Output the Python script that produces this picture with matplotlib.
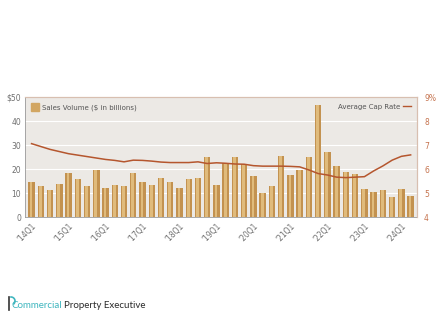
import numpy as np
import matplotlib
matplotlib.use('Agg')
import matplotlib.pyplot as plt
from matplotlib.lines import Line2D

# 資料
quarters = [f"'{y}Q{q}" for y in range(14, 25) for q in range(1, 5)][:42]
sales_volume = [14.5, 13, 11.5, 14, 18.5, 16, 13, 19.5,
                12, 13.5, 13, 18.5, 14.5, 13.5, 16.5, 14.5,
                12, 16, 16.5, 25, 13.5, 22.5, 25.3, 22.2,
                17.2, 10, 13, 25.5, 17.6, 19.7, 25.3, 47,
                27.4, 21.4, 18.8, 17.9, 11.8, 10.7, 11.3, 8.6,
                11.9, 8.9]
cap_rate = [7.07, 6.95, 6.83, 6.74, 6.65, 6.59, 6.53, 6.47,
            6.41, 6.37, 6.31, 6.38, 6.37, 6.34, 6.30, 6.28,
            6.28, 6.28, 6.31, 6.24, 6.27, 6.25, 6.22, 6.21,
            6.15, 6.13, 6.13, 6.13, 6.12, 6.10, 5.97, 5.82,
            5.76, 5.67, 5.65, 5.67, 5.69, 5.93, 6.14, 6.38,
            6.54, 6.60]
tick_labels = [q for q in quarters if q.endswith('Q1')]

gray = '#6f6f6f'
rust = '#B5562E'
frame = '#D8BFB0'

fig = plt.figure(figsize=(4.4, 3.27), dpi=100)
ax = fig.add_axes([0.057, 0.336, 0.891, 0.366])
ax.set_facecolor('#ECE9E5')

x = np.arange(len(sales_volume))
ax.bar(x, sales_volume, width=0.7, color='#C39250', zorder=2)
ax.bar(x - 0.06, sales_volume, width=0.3, color='#E0BB7C', zorder=3)

ax.set_xlim(-0.7, len(x) - 0.3)
ax.set_ylim(0, 50)
ax.set_yticks([0, 10, 20, 30, 40, 50])
ax.set_yticklabels(['0', '10', '20', '30', '40', '$50'])
ax.set_xticks([i for i, q in enumerate(quarters) if q.endswith('Q1')])
ax.set_xticklabels(tick_labels, rotation=45, ha='right', rotation_mode='anchor')
ax.tick_params(axis='both', length=0, labelsize=5.5, colors=gray, pad=3)
ax.grid(axis='y', color='white', linewidth=0.8, zorder=1)
ax.set_axisbelow(True)
for side in ['left', 'bottom']:
    ax.spines[side].set_color('#9a9a9a')
    ax.spines[side].set_linewidth(0.6)
for side in ['top', 'right']:
    ax.spines[side].set_color(frame)
    ax.spines[side].set_linewidth(0.8)

ax2 = ax.twinx()
ax2.plot(x, cap_rate, color=rust, linewidth=1.1, zorder=5)
ax2.set_ylim(4, 9)
ax2.set_yticks([4, 5, 6, 7, 8, 9])
ax2.set_yticklabels(['4', '5', '6', '7', '8', '9%'])
ax2.tick_params(axis='y', length=0, labelsize=5.5, colors='#C5734E', pad=5)
for side in ['left', 'bottom']:
    ax2.spines[side].set_visible(False)
for side in ['top', 'right']:
    ax2.spines[side].set_color(frame)
    ax2.spines[side].set_linewidth(0.8)

# 圖例
h1 = Line2D([], [], marker='s', linestyle='none', markersize=5.5,
            markerfacecolor='#D2A662', markeredgecolor='#D2A662')
leg1 = ax.legend([h1], ['Sales Volume ($ in billions)'], loc='upper left',
                 frameon=False, fontsize=5, handletextpad=0.6,
                 borderaxespad=0.6, handlelength=0.8)
for t in leg1.get_texts():
    t.set_color('#555555')
h2 = Line2D([], [], color=rust, linewidth=1)
leg2 = ax2.legend([h2], ['Average Cap Rate'], loc='upper right',
                  frameon=False, fontsize=5, markerfirst=False,
                  handlelength=1.2, handletextpad=0.4, borderaxespad=0.5)
for t in leg2.get_texts():
    t.set_color('#555555')

# 標誌
fig.add_artist(Line2D([9 / 440, 9 / 440], [1 - 310 / 327, 1 - 297 / 327],
                      color='#333333', linewidth=1.2))
theta = np.linspace(np.pi / 2, -np.pi / 4, 20)
fig.add_artist(Line2D(11 / 440 + 4 / 440 * np.cos(theta),
                      1 - 301 / 327 + 4 / 327 * np.sin(theta),
                      color='#3FB6BF', linewidth=1.2))
t1 = fig.text(11 / 440, 1 - 305 / 327, 'Commercial', color='#3FB6BF',
              fontsize=7, family='Lato', va='center', ha='left')
fig.canvas.draw()
bb = t1.get_window_extent()
fig.text(bb.x1 / fig.bbox.width + 0.005, 1 - 305 / 327, 'Property Executive',
         color='#2b2b2b', fontsize=7, family='Lato', va='center', ha='left')

fig.savefig('out.png', dpi=100)
